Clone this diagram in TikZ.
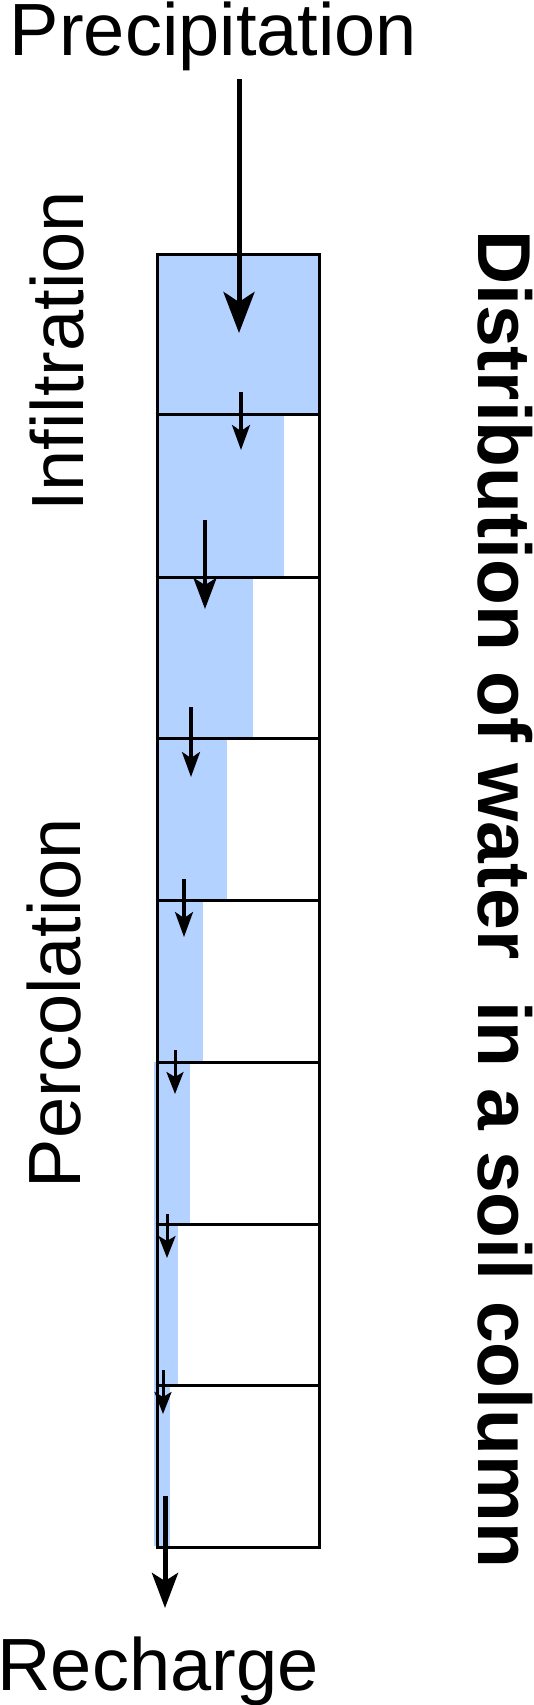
\documentclass[tikz,border=0pt]{standalone}
\usepackage{fontspec}
\setmainfont{Liberation Sans}
\usepackage{xcolor}
\usetikzlibrary{arrows.meta}
\definecolor{waterblue}{RGB}{179,210,255}
\tikzset{
  soil line/.style={draw=black, line width=3pt},
  water/.style={fill=waterblue, draw=none},
  flow big/.style={-{Stealth[length=41pt,width=31pt,inset=10pt]}, line width=5pt},
  flow mid/.style={-{Stealth[length=31pt,width=23pt,inset=7pt]}, line width=3.7pt},
  flow small/.style={-{Stealth[length=25pt,width=18pt,inset=6pt]}, line width=3.3pt},
  flow tiny/.style={-{Stealth[length=22pt,width=17pt,inset=5pt]}, line width=3pt},
  big text/.style={font=\fontsize{74}{80}\selectfont, inner sep=0pt, text height=53pt},
  title text/.style={font=\fontsize{75}{80}\selectfont\bfseries, inner sep=0pt, text height=54pt},
}

\begin{document}
\begin{tikzpicture}[x={(1pt,0)}, y={(0,-1pt)}]
  \useasboundingbox (0,0) rectangle (533,1705);

  % water in each layer
  \fill[water] (155.7,253) rectangle (317.5,414);
  \fill[water] (155.7,414) rectangle (284,577);
  \fill[water] (155.7,577) rectangle (253,738);
  \fill[water] (155.7,738) rectangle (227,900);
  \fill[water] (155.7,900) rectangle (203,1062);
  \fill[water] (154,1062) rectangle (190,1224);
  \fill[water] (154,1224) rectangle (178,1385);
  \fill[water] (154,1385) rectangle (170,1546);

  % soil column
  \node[soil line, minimum width=161.8pt, minimum height=1293pt, inner sep=0pt,
        anchor=north west] (column) at (155.7,253) {};
  \draw[soil line] (155.7,414) -- (317.5,414);
  \draw[soil line] (155.7,577) -- (317.5,577);
  \draw[soil line] (155.7,738) -- (317.5,738);
  \draw[soil line] (155.7,900) -- (317.5,900);
  \draw[soil line] (155.7,1062) -- (317.5,1062);
  \draw[soil line] (155.7,1224) -- (317.5,1224);
  \draw[soil line] (155.7,1385) -- (317.5,1385);

  % labels
  \node[big text, anchor=base] (precip) at (213.5,55) {Precipitation};
  \node[big text, anchor=base] (recharge) at (158,1690) {Recharge};
  \node[big text, rotate=90, anchor=base] (infil) at (83,351.5) {Infiltration};
  \node[big text, rotate=90, anchor=base] (perco) at (80,1003) {Percolation};
  \node[title text, rotate=-90, anchor=base] (title) at (478,899)
    {Distribution of water\ \ in a soil column};

  % flow through the layers
  \coordinate (p0) at (239,79);   \coordinate (p1) at (239,333);
  \coordinate (f2a) at (241,392); \coordinate (f2b) at (241,450);
  \coordinate (f3a) at (205,520); \coordinate (f3b) at (205,609);
  \coordinate (f4a) at (191,707); \coordinate (f4b) at (191,777);
  \coordinate (f5a) at (184,879); \coordinate (f5b) at (184,937);
  \coordinate (f6a) at (175,1050); \coordinate (f6b) at (175,1094);
  \coordinate (f7a) at (167,1214); \coordinate (f7b) at (167,1258);
  \coordinate (f8a) at (163,1370); \coordinate (f8b) at (163,1414);
  \coordinate (r0) at (165,1496); \coordinate (r1) at (165,1608);

  \draw[flow big] (p0) -- (p1);
  \draw[flow small] (f2a) -- (f2b);
  \draw[flow mid] (f3a) -- (f3b);
  \draw[flow small] (f4a) -- (f4b);
  \draw[flow small] (f5a) -- (f5b);
  \draw[flow tiny] (f6a) -- (f6b);
  \draw[flow tiny] (f7a) -- (f7b);
  \draw[flow tiny] (f8a) -- (f8b);
  \draw[flow big, -{Stealth[length=35pt,width=26pt,inset=8pt]}] (r0) -- (r1);
\end{tikzpicture}
\end{document}
